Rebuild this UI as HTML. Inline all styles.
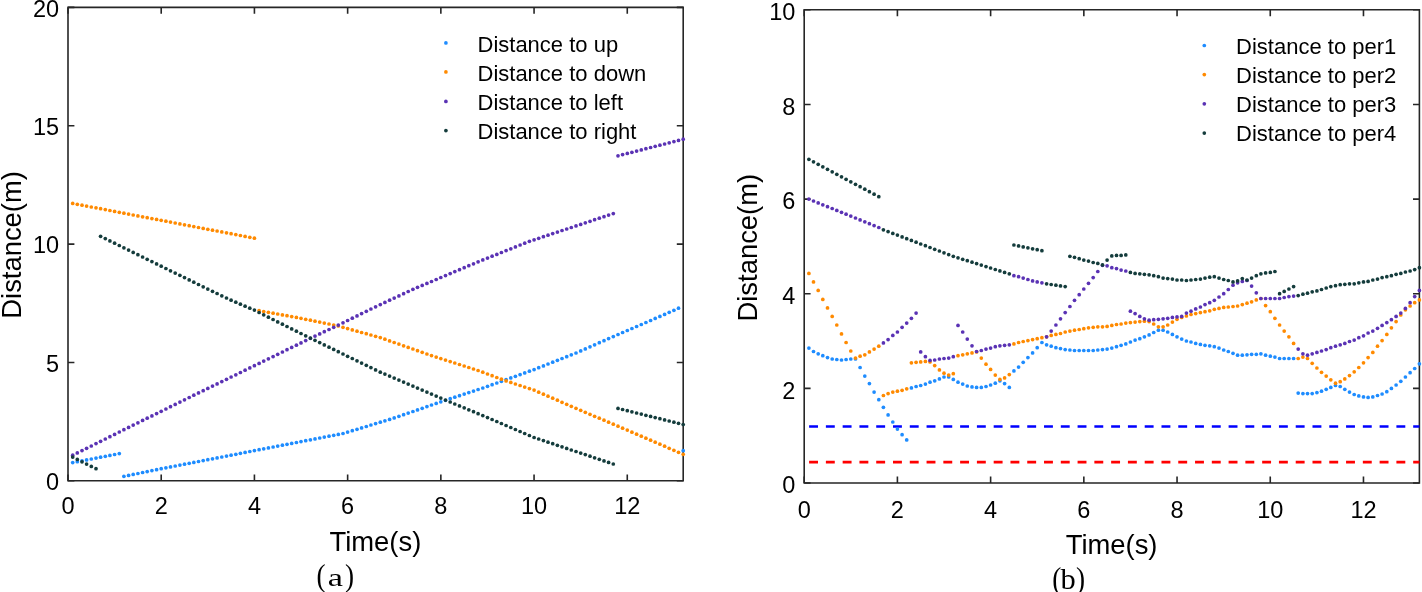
<!DOCTYPE html>
<html><head><meta charset="utf-8"><style>
html,body{margin:0;padding:0;background:#fff;width:1422px;height:592px;overflow:hidden}
svg{display:block;will-change:transform}
.tk{font-family:"Liberation Sans", sans-serif;font-size:23.5px;fill:#000}
.lg{font-family:"Liberation Sans", sans-serif;font-size:22px;fill:#000}
.al{font-family:"Liberation Sans", sans-serif;font-size:27.4px;fill:#000}
.cap{font-family:"Liberation Serif",serif;font-size:32px;fill:#000}
.cap2{font-family:"Liberation Serif",serif;font-size:30px;fill:#000}
</style></head><body>
<svg width="1422" height="592" viewBox="0 0 1422 592">
<path d="M68.0,7.4H683.2V480.8H68.0Z" fill="none" stroke="#262626" stroke-width="1.6"/>
<path d="M68.00,480.8v-6.4M68.00,7.4v6.4M161.21,480.8v-6.4M161.21,7.4v6.4M254.42,480.8v-6.4M254.42,7.4v6.4M347.64,480.8v-6.4M347.64,7.4v6.4M440.85,480.8v-6.4M440.85,7.4v6.4M534.06,480.8v-6.4M534.06,7.4v6.4M627.27,480.8v-6.4M627.27,7.4v6.4M68.0,480.80h6.4M683.2,480.80h-6.4M68.0,362.45h6.4M683.2,362.45h-6.4M68.0,244.10h6.4M683.2,244.10h-6.4M68.0,125.75h6.4M683.2,125.75h-6.4M68.0,7.40h6.4M683.2,7.40h-6.4" fill="none" stroke="#262626" stroke-width="1.6"/>
<text x="68.00" y="514.3" text-anchor="middle" class="tk">0</text>
<text x="161.21" y="514.3" text-anchor="middle" class="tk">2</text>
<text x="254.42" y="514.3" text-anchor="middle" class="tk">4</text>
<text x="347.64" y="514.3" text-anchor="middle" class="tk">6</text>
<text x="440.85" y="514.3" text-anchor="middle" class="tk">8</text>
<text x="534.06" y="514.3" text-anchor="middle" class="tk">10</text>
<text x="627.27" y="514.3" text-anchor="middle" class="tk">12</text>
<text x="59.10" y="490.10" text-anchor="end" class="tk">0</text>
<text x="59.10" y="371.75" text-anchor="end" class="tk">5</text>
<text x="59.10" y="253.40" text-anchor="end" class="tk">10</text>
<text x="59.10" y="135.05" text-anchor="end" class="tk">15</text>
<text x="59.10" y="16.70" text-anchor="end" class="tk">20</text>
<path d="M804.2,9.8H1419.4V483.0H804.2Z" fill="none" stroke="#262626" stroke-width="1.6"/>
<path d="M804.20,483.0v-6.4M804.20,9.8v6.4M897.41,483.0v-6.4M897.41,9.8v6.4M990.62,483.0v-6.4M990.62,9.8v6.4M1083.84,483.0v-6.4M1083.84,9.8v6.4M1177.05,483.0v-6.4M1177.05,9.8v6.4M1270.26,483.0v-6.4M1270.26,9.8v6.4M1363.47,483.0v-6.4M1363.47,9.8v6.4M804.2,483.00h6.4M1419.4,483.00h-6.4M804.2,388.36h6.4M1419.4,388.36h-6.4M804.2,293.72h6.4M1419.4,293.72h-6.4M804.2,199.08h6.4M1419.4,199.08h-6.4M804.2,104.44h6.4M1419.4,104.44h-6.4M804.2,9.80h6.4M1419.4,9.80h-6.4" fill="none" stroke="#262626" stroke-width="1.6"/>
<text x="804.20" y="517.9" text-anchor="middle" class="tk">0</text>
<text x="897.41" y="517.9" text-anchor="middle" class="tk">2</text>
<text x="990.62" y="517.9" text-anchor="middle" class="tk">4</text>
<text x="1083.84" y="517.9" text-anchor="middle" class="tk">6</text>
<text x="1177.05" y="517.9" text-anchor="middle" class="tk">8</text>
<text x="1270.26" y="517.9" text-anchor="middle" class="tk">10</text>
<text x="1363.47" y="517.9" text-anchor="middle" class="tk">12</text>
<text x="795.30" y="493.20" text-anchor="end" class="tk">0</text>
<text x="795.30" y="398.56" text-anchor="end" class="tk">2</text>
<text x="795.30" y="303.92" text-anchor="end" class="tk">4</text>
<text x="795.30" y="209.28" text-anchor="end" class="tk">6</text>
<text x="795.30" y="114.64" text-anchor="end" class="tk">8</text>
<text x="795.30" y="20.00" text-anchor="end" class="tk">10</text>
<path d="M809.1,426.5H1419.4" stroke="#0000ff" stroke-width="2.7" stroke-dasharray="8.9 7.88" fill="none"/>
<path d="M809.1,462.1H1419.4" stroke="#ff0000" stroke-width="2.7" stroke-dasharray="8.9 7.88" fill="none"/>
<g fill="#1e8cff"><circle cx="72.7" cy="462.6" r="1.85"/><circle cx="77.3" cy="461.7" r="1.85"/><circle cx="82.0" cy="460.8" r="1.85"/><circle cx="86.6" cy="459.9" r="1.85"/><circle cx="91.3" cy="459.0" r="1.85"/><circle cx="96.0" cy="458.1" r="1.85"/><circle cx="100.6" cy="457.2" r="1.85"/><circle cx="105.3" cy="456.3" r="1.85"/><circle cx="109.9" cy="455.4" r="1.85"/><circle cx="114.6" cy="454.5" r="1.85"/><circle cx="119.3" cy="453.6" r="1.85"/><circle cx="123.9" cy="476.3" r="1.85"/><circle cx="128.6" cy="475.4" r="1.85"/><circle cx="133.2" cy="474.4" r="1.85"/><circle cx="137.9" cy="473.5" r="1.85"/><circle cx="142.6" cy="472.5" r="1.85"/><circle cx="147.2" cy="471.6" r="1.85"/><circle cx="151.9" cy="470.6" r="1.85"/><circle cx="156.6" cy="469.7" r="1.85"/><circle cx="161.2" cy="468.7" r="1.85"/><circle cx="165.9" cy="467.8" r="1.85"/><circle cx="170.5" cy="466.9" r="1.85"/><circle cx="175.2" cy="466.0" r="1.85"/><circle cx="179.9" cy="465.1" r="1.85"/><circle cx="184.5" cy="464.2" r="1.85"/><circle cx="189.2" cy="463.3" r="1.85"/><circle cx="193.8" cy="462.4" r="1.85"/><circle cx="198.5" cy="461.5" r="1.85"/><circle cx="203.2" cy="460.6" r="1.85"/><circle cx="207.8" cy="459.7" r="1.85"/><circle cx="212.5" cy="458.8" r="1.85"/><circle cx="217.1" cy="457.9" r="1.85"/><circle cx="221.8" cy="457.0" r="1.85"/><circle cx="226.5" cy="456.1" r="1.85"/><circle cx="231.1" cy="455.2" r="1.85"/><circle cx="235.8" cy="454.3" r="1.85"/><circle cx="240.4" cy="453.3" r="1.85"/><circle cx="245.1" cy="452.4" r="1.85"/><circle cx="249.8" cy="451.5" r="1.85"/><circle cx="254.4" cy="450.6" r="1.85"/><circle cx="259.1" cy="449.7" r="1.85"/><circle cx="263.7" cy="448.8" r="1.85"/><circle cx="268.4" cy="447.9" r="1.85"/><circle cx="273.1" cy="447.0" r="1.85"/><circle cx="277.7" cy="446.1" r="1.85"/><circle cx="282.4" cy="445.2" r="1.85"/><circle cx="287.0" cy="444.3" r="1.85"/><circle cx="291.7" cy="443.4" r="1.85"/><circle cx="296.4" cy="442.5" r="1.85"/><circle cx="301.0" cy="441.6" r="1.85"/><circle cx="305.7" cy="440.7" r="1.85"/><circle cx="310.4" cy="439.8" r="1.85"/><circle cx="315.0" cy="438.9" r="1.85"/><circle cx="319.7" cy="438.0" r="1.85"/><circle cx="324.3" cy="437.1" r="1.85"/><circle cx="329.0" cy="436.2" r="1.85"/><circle cx="333.7" cy="435.3" r="1.85"/><circle cx="338.3" cy="434.4" r="1.85"/><circle cx="343.0" cy="433.5" r="1.85"/><circle cx="347.6" cy="432.1" r="1.85"/><circle cx="352.3" cy="430.7" r="1.85"/><circle cx="357.0" cy="429.3" r="1.85"/><circle cx="361.6" cy="427.9" r="1.85"/><circle cx="366.3" cy="426.5" r="1.85"/><circle cx="370.9" cy="425.0" r="1.85"/><circle cx="375.6" cy="423.6" r="1.85"/><circle cx="380.3" cy="422.2" r="1.85"/><circle cx="384.9" cy="420.8" r="1.85"/><circle cx="389.6" cy="419.4" r="1.85"/><circle cx="394.2" cy="417.9" r="1.85"/><circle cx="398.9" cy="416.3" r="1.85"/><circle cx="403.6" cy="414.7" r="1.85"/><circle cx="408.2" cy="413.1" r="1.85"/><circle cx="412.9" cy="411.5" r="1.85"/><circle cx="417.5" cy="409.9" r="1.85"/><circle cx="422.2" cy="408.3" r="1.85"/><circle cx="426.9" cy="406.6" r="1.85"/><circle cx="431.5" cy="405.0" r="1.85"/><circle cx="436.2" cy="403.4" r="1.85"/><circle cx="440.8" cy="401.8" r="1.85"/><circle cx="445.5" cy="400.3" r="1.85"/><circle cx="450.2" cy="398.7" r="1.85"/><circle cx="454.8" cy="397.2" r="1.85"/><circle cx="459.5" cy="395.7" r="1.85"/><circle cx="464.2" cy="394.1" r="1.85"/><circle cx="468.8" cy="392.6" r="1.85"/><circle cx="473.5" cy="391.1" r="1.85"/><circle cx="478.1" cy="389.5" r="1.85"/><circle cx="482.8" cy="388.0" r="1.85"/><circle cx="487.5" cy="386.3" r="1.85"/><circle cx="492.1" cy="384.7" r="1.85"/><circle cx="496.8" cy="383.0" r="1.85"/><circle cx="501.4" cy="381.3" r="1.85"/><circle cx="506.1" cy="379.6" r="1.85"/><circle cx="510.8" cy="377.9" r="1.85"/><circle cx="515.4" cy="376.3" r="1.85"/><circle cx="520.1" cy="374.6" r="1.85"/><circle cx="524.7" cy="372.9" r="1.85"/><circle cx="529.4" cy="371.2" r="1.85"/><circle cx="534.1" cy="369.6" r="1.85"/><circle cx="538.7" cy="367.7" r="1.85"/><circle cx="543.4" cy="365.9" r="1.85"/><circle cx="548.0" cy="364.0" r="1.85"/><circle cx="552.7" cy="362.2" r="1.85"/><circle cx="557.4" cy="360.3" r="1.85"/><circle cx="562.0" cy="358.5" r="1.85"/><circle cx="566.7" cy="356.7" r="1.85"/><circle cx="571.3" cy="354.8" r="1.85"/><circle cx="576.0" cy="353.0" r="1.85"/><circle cx="580.7" cy="350.9" r="1.85"/><circle cx="585.3" cy="348.9" r="1.85"/><circle cx="590.0" cy="346.8" r="1.85"/><circle cx="594.6" cy="344.8" r="1.85"/><circle cx="599.3" cy="342.7" r="1.85"/><circle cx="604.0" cy="340.7" r="1.85"/><circle cx="608.6" cy="338.6" r="1.85"/><circle cx="613.3" cy="336.6" r="1.85"/><circle cx="618.0" cy="334.5" r="1.85"/><circle cx="622.6" cy="332.5" r="1.85"/><circle cx="627.3" cy="330.5" r="1.85"/><circle cx="631.9" cy="328.5" r="1.85"/><circle cx="636.6" cy="326.5" r="1.85"/><circle cx="641.3" cy="324.5" r="1.85"/><circle cx="645.9" cy="322.5" r="1.85"/><circle cx="650.6" cy="320.5" r="1.85"/><circle cx="655.2" cy="318.4" r="1.85"/><circle cx="659.9" cy="316.4" r="1.85"/><circle cx="664.6" cy="314.4" r="1.85"/><circle cx="669.2" cy="312.3" r="1.85"/><circle cx="673.9" cy="310.3" r="1.85"/><circle cx="678.5" cy="308.2" r="1.85"/><circle cx="683.2" cy="450.7" r="1.85"/></g>
<g fill="#ff8a00"><circle cx="72.7" cy="203.4" r="1.85"/><circle cx="77.3" cy="204.3" r="1.85"/><circle cx="82.0" cy="205.2" r="1.85"/><circle cx="86.6" cy="206.1" r="1.85"/><circle cx="91.3" cy="207.0" r="1.85"/><circle cx="96.0" cy="207.8" r="1.85"/><circle cx="100.6" cy="208.7" r="1.85"/><circle cx="105.3" cy="209.6" r="1.85"/><circle cx="109.9" cy="210.5" r="1.85"/><circle cx="114.6" cy="211.4" r="1.85"/><circle cx="119.3" cy="212.3" r="1.85"/><circle cx="123.9" cy="213.2" r="1.85"/><circle cx="128.6" cy="214.1" r="1.85"/><circle cx="133.2" cy="215.0" r="1.85"/><circle cx="137.9" cy="215.9" r="1.85"/><circle cx="142.6" cy="216.8" r="1.85"/><circle cx="147.2" cy="217.7" r="1.85"/><circle cx="151.9" cy="218.6" r="1.85"/><circle cx="156.6" cy="219.4" r="1.85"/><circle cx="161.2" cy="220.3" r="1.85"/><circle cx="165.9" cy="221.2" r="1.85"/><circle cx="170.5" cy="222.1" r="1.85"/><circle cx="175.2" cy="223.0" r="1.85"/><circle cx="179.9" cy="223.9" r="1.85"/><circle cx="184.5" cy="224.8" r="1.85"/><circle cx="189.2" cy="225.7" r="1.85"/><circle cx="193.8" cy="226.6" r="1.85"/><circle cx="198.5" cy="227.5" r="1.85"/><circle cx="203.2" cy="228.4" r="1.85"/><circle cx="207.8" cy="229.3" r="1.85"/><circle cx="212.5" cy="230.2" r="1.85"/><circle cx="217.1" cy="231.0" r="1.85"/><circle cx="221.8" cy="231.9" r="1.85"/><circle cx="226.5" cy="232.8" r="1.85"/><circle cx="231.1" cy="233.7" r="1.85"/><circle cx="235.8" cy="234.6" r="1.85"/><circle cx="240.4" cy="235.5" r="1.85"/><circle cx="245.1" cy="236.4" r="1.85"/><circle cx="249.8" cy="237.3" r="1.85"/><circle cx="254.4" cy="238.2" r="1.85"/><circle cx="259.1" cy="310.6" r="1.85"/><circle cx="263.7" cy="311.5" r="1.85"/><circle cx="268.4" cy="312.3" r="1.85"/><circle cx="273.1" cy="313.2" r="1.85"/><circle cx="277.7" cy="314.0" r="1.85"/><circle cx="282.4" cy="314.9" r="1.85"/><circle cx="287.0" cy="315.7" r="1.85"/><circle cx="291.7" cy="316.6" r="1.85"/><circle cx="296.4" cy="317.4" r="1.85"/><circle cx="301.0" cy="318.3" r="1.85"/><circle cx="305.7" cy="319.3" r="1.85"/><circle cx="310.4" cy="320.2" r="1.85"/><circle cx="315.0" cy="321.2" r="1.85"/><circle cx="319.7" cy="322.1" r="1.85"/><circle cx="324.3" cy="323.1" r="1.85"/><circle cx="329.0" cy="324.0" r="1.85"/><circle cx="333.7" cy="325.0" r="1.85"/><circle cx="338.3" cy="326.0" r="1.85"/><circle cx="343.0" cy="327.3" r="1.85"/><circle cx="347.6" cy="328.6" r="1.85"/><circle cx="352.3" cy="329.9" r="1.85"/><circle cx="357.0" cy="331.2" r="1.85"/><circle cx="361.6" cy="332.5" r="1.85"/><circle cx="366.3" cy="333.7" r="1.85"/><circle cx="370.9" cy="335.0" r="1.85"/><circle cx="375.6" cy="336.3" r="1.85"/><circle cx="380.3" cy="337.6" r="1.85"/><circle cx="384.9" cy="339.2" r="1.85"/><circle cx="389.6" cy="340.9" r="1.85"/><circle cx="394.2" cy="342.5" r="1.85"/><circle cx="398.9" cy="344.1" r="1.85"/><circle cx="403.6" cy="345.8" r="1.85"/><circle cx="408.2" cy="347.4" r="1.85"/><circle cx="412.9" cy="349.0" r="1.85"/><circle cx="417.5" cy="350.7" r="1.85"/><circle cx="422.2" cy="352.3" r="1.85"/><circle cx="426.9" cy="354.0" r="1.85"/><circle cx="431.5" cy="355.6" r="1.85"/><circle cx="436.2" cy="357.1" r="1.85"/><circle cx="440.8" cy="358.6" r="1.85"/><circle cx="445.5" cy="360.1" r="1.85"/><circle cx="450.2" cy="361.6" r="1.85"/><circle cx="454.8" cy="363.0" r="1.85"/><circle cx="459.5" cy="364.5" r="1.85"/><circle cx="464.2" cy="366.0" r="1.85"/><circle cx="468.8" cy="367.5" r="1.85"/><circle cx="473.5" cy="369.0" r="1.85"/><circle cx="478.1" cy="370.5" r="1.85"/><circle cx="482.8" cy="372.2" r="1.85"/><circle cx="487.5" cy="374.0" r="1.85"/><circle cx="492.1" cy="375.7" r="1.85"/><circle cx="496.8" cy="377.5" r="1.85"/><circle cx="501.4" cy="379.2" r="1.85"/><circle cx="506.1" cy="380.9" r="1.85"/><circle cx="510.8" cy="382.4" r="1.85"/><circle cx="515.4" cy="384.0" r="1.85"/><circle cx="520.1" cy="385.5" r="1.85"/><circle cx="524.7" cy="387.1" r="1.85"/><circle cx="529.4" cy="388.6" r="1.85"/><circle cx="534.1" cy="390.1" r="1.85"/><circle cx="538.7" cy="392.2" r="1.85"/><circle cx="543.4" cy="394.2" r="1.85"/><circle cx="548.0" cy="396.2" r="1.85"/><circle cx="552.7" cy="398.2" r="1.85"/><circle cx="557.4" cy="400.2" r="1.85"/><circle cx="562.0" cy="402.3" r="1.85"/><circle cx="566.7" cy="404.3" r="1.85"/><circle cx="571.3" cy="406.3" r="1.85"/><circle cx="576.0" cy="408.3" r="1.85"/><circle cx="580.7" cy="410.3" r="1.85"/><circle cx="585.3" cy="412.3" r="1.85"/><circle cx="590.0" cy="414.3" r="1.85"/><circle cx="594.6" cy="416.3" r="1.85"/><circle cx="599.3" cy="418.2" r="1.85"/><circle cx="604.0" cy="420.2" r="1.85"/><circle cx="608.6" cy="422.2" r="1.85"/><circle cx="613.3" cy="424.2" r="1.85"/><circle cx="618.0" cy="426.2" r="1.85"/><circle cx="622.6" cy="428.2" r="1.85"/><circle cx="627.3" cy="430.1" r="1.85"/><circle cx="631.9" cy="432.2" r="1.85"/><circle cx="636.6" cy="434.2" r="1.85"/><circle cx="641.3" cy="436.2" r="1.85"/><circle cx="645.9" cy="438.2" r="1.85"/><circle cx="650.6" cy="440.2" r="1.85"/><circle cx="655.2" cy="442.2" r="1.85"/><circle cx="659.9" cy="444.2" r="1.85"/><circle cx="664.6" cy="446.2" r="1.85"/><circle cx="669.2" cy="448.3" r="1.85"/><circle cx="673.9" cy="450.3" r="1.85"/><circle cx="678.5" cy="452.3" r="1.85"/><circle cx="683.2" cy="454.3" r="1.85"/></g>
<g fill="#5a32b4"><circle cx="72.7" cy="455.2" r="1.85"/><circle cx="77.3" cy="452.9" r="1.85"/><circle cx="82.0" cy="450.6" r="1.85"/><circle cx="86.6" cy="448.3" r="1.85"/><circle cx="91.3" cy="446.0" r="1.85"/><circle cx="96.0" cy="443.6" r="1.85"/><circle cx="100.6" cy="441.3" r="1.85"/><circle cx="105.3" cy="439.0" r="1.85"/><circle cx="109.9" cy="436.7" r="1.85"/><circle cx="114.6" cy="434.4" r="1.85"/><circle cx="119.3" cy="432.0" r="1.85"/><circle cx="123.9" cy="429.7" r="1.85"/><circle cx="128.6" cy="427.4" r="1.85"/><circle cx="133.2" cy="425.1" r="1.85"/><circle cx="137.9" cy="422.8" r="1.85"/><circle cx="142.6" cy="420.4" r="1.85"/><circle cx="147.2" cy="418.2" r="1.85"/><circle cx="151.9" cy="415.9" r="1.85"/><circle cx="156.6" cy="413.6" r="1.85"/><circle cx="161.2" cy="411.3" r="1.85"/><circle cx="165.9" cy="409.0" r="1.85"/><circle cx="170.5" cy="406.7" r="1.85"/><circle cx="175.2" cy="404.4" r="1.85"/><circle cx="179.9" cy="402.1" r="1.85"/><circle cx="184.5" cy="399.8" r="1.85"/><circle cx="189.2" cy="397.5" r="1.85"/><circle cx="193.8" cy="395.2" r="1.85"/><circle cx="198.5" cy="392.9" r="1.85"/><circle cx="203.2" cy="390.7" r="1.85"/><circle cx="207.8" cy="388.4" r="1.85"/><circle cx="212.5" cy="386.1" r="1.85"/><circle cx="217.1" cy="383.9" r="1.85"/><circle cx="221.8" cy="381.6" r="1.85"/><circle cx="226.5" cy="379.3" r="1.85"/><circle cx="231.1" cy="377.0" r="1.85"/><circle cx="235.8" cy="374.8" r="1.85"/><circle cx="240.4" cy="372.5" r="1.85"/><circle cx="245.1" cy="370.2" r="1.85"/><circle cx="249.8" cy="367.9" r="1.85"/><circle cx="254.4" cy="365.7" r="1.85"/><circle cx="259.1" cy="363.4" r="1.85"/><circle cx="263.7" cy="361.1" r="1.85"/><circle cx="268.4" cy="358.8" r="1.85"/><circle cx="273.1" cy="356.6" r="1.85"/><circle cx="277.7" cy="354.3" r="1.85"/><circle cx="282.4" cy="352.0" r="1.85"/><circle cx="287.0" cy="349.7" r="1.85"/><circle cx="291.7" cy="347.4" r="1.85"/><circle cx="296.4" cy="345.2" r="1.85"/><circle cx="301.0" cy="342.9" r="1.85"/><circle cx="305.7" cy="340.6" r="1.85"/><circle cx="310.4" cy="338.3" r="1.85"/><circle cx="315.0" cy="336.1" r="1.85"/><circle cx="319.7" cy="333.9" r="1.85"/><circle cx="324.3" cy="331.7" r="1.85"/><circle cx="329.0" cy="329.5" r="1.85"/><circle cx="333.7" cy="327.3" r="1.85"/><circle cx="338.3" cy="325.1" r="1.85"/><circle cx="343.0" cy="322.8" r="1.85"/><circle cx="347.6" cy="320.5" r="1.85"/><circle cx="352.3" cy="318.2" r="1.85"/><circle cx="357.0" cy="315.9" r="1.85"/><circle cx="361.6" cy="313.6" r="1.85"/><circle cx="366.3" cy="311.3" r="1.85"/><circle cx="370.9" cy="309.0" r="1.85"/><circle cx="375.6" cy="306.8" r="1.85"/><circle cx="380.3" cy="304.6" r="1.85"/><circle cx="384.9" cy="302.4" r="1.85"/><circle cx="389.6" cy="300.2" r="1.85"/><circle cx="394.2" cy="298.1" r="1.85"/><circle cx="398.9" cy="295.9" r="1.85"/><circle cx="403.6" cy="293.7" r="1.85"/><circle cx="408.2" cy="291.5" r="1.85"/><circle cx="412.9" cy="289.3" r="1.85"/><circle cx="417.5" cy="287.3" r="1.85"/><circle cx="422.2" cy="285.4" r="1.85"/><circle cx="426.9" cy="283.4" r="1.85"/><circle cx="431.5" cy="281.5" r="1.85"/><circle cx="436.2" cy="279.5" r="1.85"/><circle cx="440.8" cy="277.5" r="1.85"/><circle cx="445.5" cy="275.6" r="1.85"/><circle cx="450.2" cy="273.6" r="1.85"/><circle cx="454.8" cy="271.6" r="1.85"/><circle cx="459.5" cy="269.7" r="1.85"/><circle cx="464.2" cy="267.7" r="1.85"/><circle cx="468.8" cy="265.7" r="1.85"/><circle cx="473.5" cy="263.8" r="1.85"/><circle cx="478.1" cy="261.8" r="1.85"/><circle cx="482.8" cy="259.9" r="1.85"/><circle cx="487.5" cy="258.1" r="1.85"/><circle cx="492.1" cy="256.2" r="1.85"/><circle cx="496.8" cy="254.4" r="1.85"/><circle cx="501.4" cy="252.5" r="1.85"/><circle cx="506.1" cy="250.6" r="1.85"/><circle cx="510.8" cy="248.8" r="1.85"/><circle cx="515.4" cy="246.9" r="1.85"/><circle cx="520.1" cy="245.0" r="1.85"/><circle cx="524.7" cy="243.2" r="1.85"/><circle cx="529.4" cy="241.3" r="1.85"/><circle cx="534.1" cy="239.8" r="1.85"/><circle cx="538.7" cy="238.3" r="1.85"/><circle cx="543.4" cy="236.7" r="1.85"/><circle cx="548.0" cy="235.2" r="1.85"/><circle cx="552.7" cy="233.6" r="1.85"/><circle cx="557.4" cy="232.1" r="1.85"/><circle cx="562.0" cy="230.5" r="1.85"/><circle cx="566.7" cy="229.0" r="1.85"/><circle cx="571.3" cy="227.5" r="1.85"/><circle cx="576.0" cy="225.9" r="1.85"/><circle cx="580.7" cy="224.4" r="1.85"/><circle cx="585.3" cy="222.8" r="1.85"/><circle cx="590.0" cy="221.3" r="1.85"/><circle cx="594.6" cy="219.7" r="1.85"/><circle cx="599.3" cy="218.2" r="1.85"/><circle cx="604.0" cy="216.7" r="1.85"/><circle cx="608.6" cy="215.1" r="1.85"/><circle cx="613.3" cy="213.6" r="1.85"/><circle cx="618.0" cy="155.8" r="1.85"/><circle cx="622.6" cy="154.6" r="1.85"/><circle cx="627.3" cy="153.4" r="1.85"/><circle cx="631.9" cy="152.3" r="1.85"/><circle cx="636.6" cy="151.1" r="1.85"/><circle cx="641.3" cy="149.9" r="1.85"/><circle cx="645.9" cy="148.7" r="1.85"/><circle cx="650.6" cy="147.5" r="1.85"/><circle cx="655.2" cy="146.3" r="1.85"/><circle cx="659.9" cy="145.2" r="1.85"/><circle cx="664.6" cy="144.0" r="1.85"/><circle cx="669.2" cy="142.8" r="1.85"/><circle cx="673.9" cy="141.6" r="1.85"/><circle cx="678.5" cy="140.4" r="1.85"/><circle cx="683.2" cy="139.2" r="1.85"/></g>
<g fill="#143c3c"><circle cx="72.7" cy="457.1" r="1.85"/><circle cx="77.3" cy="459.4" r="1.85"/><circle cx="82.0" cy="461.8" r="1.85"/><circle cx="86.6" cy="464.1" r="1.85"/><circle cx="91.3" cy="466.4" r="1.85"/><circle cx="96.0" cy="468.7" r="1.85"/><circle cx="100.6" cy="236.3" r="1.85"/><circle cx="105.3" cy="238.6" r="1.85"/><circle cx="109.9" cy="240.9" r="1.85"/><circle cx="114.6" cy="243.2" r="1.85"/><circle cx="119.3" cy="245.5" r="1.85"/><circle cx="123.9" cy="247.8" r="1.85"/><circle cx="128.6" cy="250.1" r="1.85"/><circle cx="133.2" cy="252.4" r="1.85"/><circle cx="137.9" cy="254.7" r="1.85"/><circle cx="142.6" cy="257.0" r="1.85"/><circle cx="147.2" cy="259.3" r="1.85"/><circle cx="151.9" cy="261.6" r="1.85"/><circle cx="156.6" cy="263.9" r="1.85"/><circle cx="161.2" cy="266.2" r="1.85"/><circle cx="165.9" cy="268.5" r="1.85"/><circle cx="170.5" cy="270.8" r="1.85"/><circle cx="175.2" cy="273.1" r="1.85"/><circle cx="179.9" cy="275.3" r="1.85"/><circle cx="184.5" cy="277.6" r="1.85"/><circle cx="189.2" cy="279.9" r="1.85"/><circle cx="193.8" cy="282.2" r="1.85"/><circle cx="198.5" cy="284.5" r="1.85"/><circle cx="203.2" cy="286.8" r="1.85"/><circle cx="207.8" cy="289.1" r="1.85"/><circle cx="212.5" cy="291.3" r="1.85"/><circle cx="217.1" cy="293.5" r="1.85"/><circle cx="221.8" cy="295.8" r="1.85"/><circle cx="226.5" cy="298.0" r="1.85"/><circle cx="231.1" cy="300.2" r="1.85"/><circle cx="235.8" cy="302.2" r="1.85"/><circle cx="240.4" cy="304.2" r="1.85"/><circle cx="245.1" cy="306.2" r="1.85"/><circle cx="249.8" cy="308.2" r="1.85"/><circle cx="254.4" cy="310.1" r="1.85"/><circle cx="259.1" cy="312.5" r="1.85"/><circle cx="263.7" cy="314.8" r="1.85"/><circle cx="268.4" cy="317.2" r="1.85"/><circle cx="273.1" cy="319.5" r="1.85"/><circle cx="277.7" cy="321.9" r="1.85"/><circle cx="282.4" cy="324.2" r="1.85"/><circle cx="287.0" cy="326.5" r="1.85"/><circle cx="291.7" cy="328.9" r="1.85"/><circle cx="296.4" cy="331.2" r="1.85"/><circle cx="301.0" cy="333.5" r="1.85"/><circle cx="305.7" cy="335.8" r="1.85"/><circle cx="310.4" cy="338.1" r="1.85"/><circle cx="315.0" cy="340.3" r="1.85"/><circle cx="319.7" cy="342.6" r="1.85"/><circle cx="324.3" cy="344.9" r="1.85"/><circle cx="329.0" cy="347.2" r="1.85"/><circle cx="333.7" cy="349.4" r="1.85"/><circle cx="338.3" cy="351.7" r="1.85"/><circle cx="343.0" cy="354.0" r="1.85"/><circle cx="347.6" cy="356.3" r="1.85"/><circle cx="352.3" cy="358.5" r="1.85"/><circle cx="357.0" cy="360.8" r="1.85"/><circle cx="361.6" cy="363.1" r="1.85"/><circle cx="366.3" cy="365.3" r="1.85"/><circle cx="370.9" cy="367.6" r="1.85"/><circle cx="375.6" cy="369.9" r="1.85"/><circle cx="380.3" cy="372.2" r="1.85"/><circle cx="384.9" cy="374.1" r="1.85"/><circle cx="389.6" cy="376.1" r="1.85"/><circle cx="394.2" cy="378.1" r="1.85"/><circle cx="398.9" cy="380.1" r="1.85"/><circle cx="403.6" cy="382.1" r="1.85"/><circle cx="408.2" cy="384.1" r="1.85"/><circle cx="412.9" cy="386.1" r="1.85"/><circle cx="417.5" cy="388.1" r="1.85"/><circle cx="422.2" cy="390.1" r="1.85"/><circle cx="426.9" cy="392.1" r="1.85"/><circle cx="431.5" cy="394.1" r="1.85"/><circle cx="436.2" cy="396.1" r="1.85"/><circle cx="440.8" cy="398.1" r="1.85"/><circle cx="445.5" cy="400.1" r="1.85"/><circle cx="450.2" cy="402.0" r="1.85"/><circle cx="454.8" cy="404.0" r="1.85"/><circle cx="459.5" cy="405.9" r="1.85"/><circle cx="464.2" cy="407.8" r="1.85"/><circle cx="468.8" cy="409.8" r="1.85"/><circle cx="473.5" cy="411.7" r="1.85"/><circle cx="478.1" cy="413.7" r="1.85"/><circle cx="482.8" cy="415.6" r="1.85"/><circle cx="487.5" cy="417.6" r="1.85"/><circle cx="492.1" cy="419.5" r="1.85"/><circle cx="496.8" cy="421.5" r="1.85"/><circle cx="501.4" cy="423.5" r="1.85"/><circle cx="506.1" cy="425.5" r="1.85"/><circle cx="510.8" cy="427.5" r="1.85"/><circle cx="515.4" cy="429.5" r="1.85"/><circle cx="520.1" cy="431.5" r="1.85"/><circle cx="524.7" cy="433.5" r="1.85"/><circle cx="529.4" cy="435.5" r="1.85"/><circle cx="534.1" cy="437.5" r="1.85"/><circle cx="538.7" cy="439.0" r="1.85"/><circle cx="543.4" cy="440.6" r="1.85"/><circle cx="548.0" cy="442.2" r="1.85"/><circle cx="552.7" cy="443.7" r="1.85"/><circle cx="557.4" cy="445.3" r="1.85"/><circle cx="562.0" cy="446.8" r="1.85"/><circle cx="566.7" cy="448.4" r="1.85"/><circle cx="571.3" cy="450.0" r="1.85"/><circle cx="576.0" cy="451.5" r="1.85"/><circle cx="580.7" cy="453.1" r="1.85"/><circle cx="585.3" cy="454.6" r="1.85"/><circle cx="590.0" cy="456.2" r="1.85"/><circle cx="594.6" cy="457.8" r="1.85"/><circle cx="599.3" cy="459.3" r="1.85"/><circle cx="604.0" cy="460.9" r="1.85"/><circle cx="608.6" cy="462.4" r="1.85"/><circle cx="613.3" cy="464.0" r="1.85"/><circle cx="618.0" cy="408.4" r="1.85"/><circle cx="622.6" cy="409.5" r="1.85"/><circle cx="627.3" cy="410.7" r="1.85"/><circle cx="631.9" cy="411.8" r="1.85"/><circle cx="636.6" cy="413.0" r="1.85"/><circle cx="641.3" cy="414.1" r="1.85"/><circle cx="645.9" cy="415.3" r="1.85"/><circle cx="650.6" cy="416.4" r="1.85"/><circle cx="655.2" cy="417.6" r="1.85"/><circle cx="659.9" cy="418.7" r="1.85"/><circle cx="664.6" cy="419.9" r="1.85"/><circle cx="669.2" cy="421.0" r="1.85"/><circle cx="673.9" cy="422.2" r="1.85"/><circle cx="678.5" cy="423.3" r="1.85"/><circle cx="683.2" cy="424.5" r="1.85"/></g>
<g fill="#1e8cff"><circle cx="808.9" cy="348.1" r="1.85"/><circle cx="813.5" cy="351.5" r="1.85"/><circle cx="818.2" cy="353.8" r="1.85"/><circle cx="822.8" cy="355.7" r="1.85"/><circle cx="827.5" cy="357.6" r="1.85"/><circle cx="832.2" cy="359.0" r="1.85"/><circle cx="836.8" cy="359.5" r="1.85"/><circle cx="841.5" cy="360.0" r="1.85"/><circle cx="846.1" cy="359.5" r="1.85"/><circle cx="850.8" cy="359.0" r="1.85"/><circle cx="855.5" cy="359.0" r="1.85"/><circle cx="860.1" cy="367.5" r="1.85"/><circle cx="864.8" cy="376.1" r="1.85"/><circle cx="869.4" cy="383.6" r="1.85"/><circle cx="874.1" cy="392.1" r="1.85"/><circle cx="878.8" cy="399.7" r="1.85"/><circle cx="883.4" cy="407.3" r="1.85"/><circle cx="888.1" cy="414.9" r="1.85"/><circle cx="892.8" cy="422.0" r="1.85"/><circle cx="897.4" cy="429.1" r="1.85"/><circle cx="902.1" cy="434.7" r="1.85"/><circle cx="906.7" cy="439.9" r="1.85"/><circle cx="911.4" cy="387.9" r="1.85"/><circle cx="916.1" cy="386.5" r="1.85"/><circle cx="920.7" cy="385.5" r="1.85"/><circle cx="925.4" cy="384.1" r="1.85"/><circle cx="930.0" cy="382.2" r="1.85"/><circle cx="934.7" cy="380.8" r="1.85"/><circle cx="939.4" cy="378.9" r="1.85"/><circle cx="944.0" cy="377.0" r="1.85"/><circle cx="948.7" cy="377.0" r="1.85"/><circle cx="953.3" cy="379.4" r="1.85"/><circle cx="958.0" cy="382.2" r="1.85"/><circle cx="962.7" cy="384.1" r="1.85"/><circle cx="967.3" cy="386.0" r="1.85"/><circle cx="972.0" cy="386.9" r="1.85"/><circle cx="976.6" cy="387.4" r="1.85"/><circle cx="981.3" cy="387.4" r="1.85"/><circle cx="986.0" cy="386.5" r="1.85"/><circle cx="990.6" cy="385.0" r="1.85"/><circle cx="995.3" cy="383.2" r="1.85"/><circle cx="999.9" cy="380.8" r="1.85"/><circle cx="1004.6" cy="383.6" r="1.85"/><circle cx="1009.3" cy="387.4" r="1.85"/><circle cx="1013.9" cy="370.9" r="1.85"/><circle cx="1018.6" cy="367.1" r="1.85"/><circle cx="1023.2" cy="362.3" r="1.85"/><circle cx="1027.9" cy="357.6" r="1.85"/><circle cx="1032.6" cy="352.9" r="1.85"/><circle cx="1037.2" cy="347.7" r="1.85"/><circle cx="1041.9" cy="342.5" r="1.85"/><circle cx="1046.6" cy="344.8" r="1.85"/><circle cx="1051.2" cy="346.2" r="1.85"/><circle cx="1055.9" cy="347.7" r="1.85"/><circle cx="1060.5" cy="348.6" r="1.85"/><circle cx="1065.2" cy="349.6" r="1.85"/><circle cx="1069.9" cy="350.0" r="1.85"/><circle cx="1074.5" cy="350.5" r="1.85"/><circle cx="1079.2" cy="350.5" r="1.85"/><circle cx="1083.8" cy="350.5" r="1.85"/><circle cx="1088.5" cy="350.5" r="1.85"/><circle cx="1093.2" cy="350.5" r="1.85"/><circle cx="1097.8" cy="350.0" r="1.85"/><circle cx="1102.5" cy="349.6" r="1.85"/><circle cx="1107.1" cy="349.1" r="1.85"/><circle cx="1111.8" cy="348.1" r="1.85"/><circle cx="1116.5" cy="346.7" r="1.85"/><circle cx="1121.1" cy="345.3" r="1.85"/><circle cx="1125.8" cy="343.9" r="1.85"/><circle cx="1130.4" cy="342.0" r="1.85"/><circle cx="1135.1" cy="340.1" r="1.85"/><circle cx="1139.8" cy="338.7" r="1.85"/><circle cx="1144.4" cy="336.8" r="1.85"/><circle cx="1149.1" cy="334.9" r="1.85"/><circle cx="1153.7" cy="332.5" r="1.85"/><circle cx="1158.4" cy="330.2" r="1.85"/><circle cx="1163.1" cy="330.2" r="1.85"/><circle cx="1167.7" cy="332.0" r="1.85"/><circle cx="1172.4" cy="334.4" r="1.85"/><circle cx="1177.0" cy="336.8" r="1.85"/><circle cx="1181.7" cy="339.1" r="1.85"/><circle cx="1186.4" cy="341.0" r="1.85"/><circle cx="1191.0" cy="342.0" r="1.85"/><circle cx="1195.7" cy="343.4" r="1.85"/><circle cx="1200.4" cy="344.4" r="1.85"/><circle cx="1205.0" cy="345.3" r="1.85"/><circle cx="1209.7" cy="345.8" r="1.85"/><circle cx="1214.3" cy="346.7" r="1.85"/><circle cx="1219.0" cy="348.1" r="1.85"/><circle cx="1223.7" cy="350.0" r="1.85"/><circle cx="1228.3" cy="351.5" r="1.85"/><circle cx="1233.0" cy="353.3" r="1.85"/><circle cx="1237.6" cy="355.2" r="1.85"/><circle cx="1242.3" cy="355.2" r="1.85"/><circle cx="1247.0" cy="354.8" r="1.85"/><circle cx="1251.6" cy="354.3" r="1.85"/><circle cx="1256.3" cy="354.3" r="1.85"/><circle cx="1260.9" cy="353.8" r="1.85"/><circle cx="1265.6" cy="355.2" r="1.85"/><circle cx="1270.3" cy="356.2" r="1.85"/><circle cx="1274.9" cy="357.1" r="1.85"/><circle cx="1279.6" cy="358.5" r="1.85"/><circle cx="1284.2" cy="358.5" r="1.85"/><circle cx="1288.9" cy="358.5" r="1.85"/><circle cx="1293.6" cy="358.5" r="1.85"/><circle cx="1298.2" cy="393.1" r="1.85"/><circle cx="1302.9" cy="393.6" r="1.85"/><circle cx="1307.5" cy="393.6" r="1.85"/><circle cx="1312.2" cy="393.6" r="1.85"/><circle cx="1316.9" cy="392.6" r="1.85"/><circle cx="1321.5" cy="391.2" r="1.85"/><circle cx="1326.2" cy="389.3" r="1.85"/><circle cx="1330.8" cy="387.4" r="1.85"/><circle cx="1335.5" cy="385.5" r="1.85"/><circle cx="1340.2" cy="386.5" r="1.85"/><circle cx="1344.8" cy="389.3" r="1.85"/><circle cx="1349.5" cy="392.1" r="1.85"/><circle cx="1354.2" cy="394.5" r="1.85"/><circle cx="1358.8" cy="395.9" r="1.85"/><circle cx="1363.5" cy="396.9" r="1.85"/><circle cx="1368.1" cy="397.4" r="1.85"/><circle cx="1372.8" cy="396.9" r="1.85"/><circle cx="1377.5" cy="395.5" r="1.85"/><circle cx="1382.1" cy="394.0" r="1.85"/><circle cx="1386.8" cy="391.7" r="1.85"/><circle cx="1391.4" cy="388.4" r="1.85"/><circle cx="1396.1" cy="385.0" r="1.85"/><circle cx="1400.8" cy="381.3" r="1.85"/><circle cx="1405.4" cy="377.0" r="1.85"/><circle cx="1410.1" cy="372.7" r="1.85"/><circle cx="1414.7" cy="368.5" r="1.85"/><circle cx="1419.4" cy="363.8" r="1.85"/></g>
<g fill="#ff8a00"><circle cx="808.9" cy="273.4" r="1.85"/><circle cx="813.5" cy="281.9" r="1.85"/><circle cx="818.2" cy="290.4" r="1.85"/><circle cx="822.8" cy="299.4" r="1.85"/><circle cx="827.5" cy="307.9" r="1.85"/><circle cx="832.2" cy="316.4" r="1.85"/><circle cx="836.8" cy="325.0" r="1.85"/><circle cx="841.5" cy="333.9" r="1.85"/><circle cx="846.1" cy="342.5" r="1.85"/><circle cx="850.8" cy="351.0" r="1.85"/><circle cx="855.5" cy="358.1" r="1.85"/><circle cx="860.1" cy="356.2" r="1.85"/><circle cx="864.8" cy="354.8" r="1.85"/><circle cx="869.4" cy="351.9" r="1.85"/><circle cx="874.1" cy="349.1" r="1.85"/><circle cx="878.8" cy="346.2" r="1.85"/><circle cx="883.4" cy="395.5" r="1.85"/><circle cx="888.1" cy="393.6" r="1.85"/><circle cx="892.8" cy="392.1" r="1.85"/><circle cx="897.4" cy="391.2" r="1.85"/><circle cx="902.1" cy="390.3" r="1.85"/><circle cx="906.7" cy="388.8" r="1.85"/><circle cx="911.4" cy="362.8" r="1.85"/><circle cx="916.1" cy="362.3" r="1.85"/><circle cx="920.7" cy="361.9" r="1.85"/><circle cx="925.4" cy="361.4" r="1.85"/><circle cx="930.0" cy="361.9" r="1.85"/><circle cx="934.7" cy="365.6" r="1.85"/><circle cx="939.4" cy="369.9" r="1.85"/><circle cx="944.0" cy="373.2" r="1.85"/><circle cx="948.7" cy="375.1" r="1.85"/><circle cx="953.3" cy="373.7" r="1.85"/><circle cx="958.0" cy="355.7" r="1.85"/><circle cx="962.7" cy="354.8" r="1.85"/><circle cx="967.3" cy="353.8" r="1.85"/><circle cx="972.0" cy="352.9" r="1.85"/><circle cx="976.6" cy="351.9" r="1.85"/><circle cx="981.3" cy="358.1" r="1.85"/><circle cx="986.0" cy="364.2" r="1.85"/><circle cx="990.6" cy="369.4" r="1.85"/><circle cx="995.3" cy="375.1" r="1.85"/><circle cx="999.9" cy="379.4" r="1.85"/><circle cx="1004.6" cy="377.9" r="1.85"/><circle cx="1009.3" cy="374.6" r="1.85"/><circle cx="1013.9" cy="343.9" r="1.85"/><circle cx="1018.6" cy="342.5" r="1.85"/><circle cx="1023.2" cy="341.5" r="1.85"/><circle cx="1027.9" cy="340.6" r="1.85"/><circle cx="1032.6" cy="339.6" r="1.85"/><circle cx="1037.2" cy="338.7" r="1.85"/><circle cx="1041.9" cy="337.7" r="1.85"/><circle cx="1046.6" cy="336.8" r="1.85"/><circle cx="1051.2" cy="335.4" r="1.85"/><circle cx="1055.9" cy="334.4" r="1.85"/><circle cx="1060.5" cy="333.5" r="1.85"/><circle cx="1065.2" cy="332.0" r="1.85"/><circle cx="1069.9" cy="331.1" r="1.85"/><circle cx="1074.5" cy="330.2" r="1.85"/><circle cx="1079.2" cy="329.5" r="1.85"/><circle cx="1083.8" cy="328.7" r="1.85"/><circle cx="1088.5" cy="327.8" r="1.85"/><circle cx="1093.2" cy="327.3" r="1.85"/><circle cx="1097.8" cy="326.8" r="1.85"/><circle cx="1102.5" cy="326.8" r="1.85"/><circle cx="1107.1" cy="326.4" r="1.85"/><circle cx="1111.8" cy="325.4" r="1.85"/><circle cx="1116.5" cy="324.5" r="1.85"/><circle cx="1121.1" cy="324.0" r="1.85"/><circle cx="1125.8" cy="323.1" r="1.85"/><circle cx="1130.4" cy="322.6" r="1.85"/><circle cx="1135.1" cy="322.1" r="1.85"/><circle cx="1139.8" cy="321.6" r="1.85"/><circle cx="1144.4" cy="321.2" r="1.85"/><circle cx="1149.1" cy="321.6" r="1.85"/><circle cx="1153.7" cy="324.0" r="1.85"/><circle cx="1158.4" cy="326.8" r="1.85"/><circle cx="1163.1" cy="326.8" r="1.85"/><circle cx="1167.7" cy="325.0" r="1.85"/><circle cx="1172.4" cy="322.1" r="1.85"/><circle cx="1177.0" cy="319.3" r="1.85"/><circle cx="1181.7" cy="317.4" r="1.85"/><circle cx="1186.4" cy="316.0" r="1.85"/><circle cx="1191.0" cy="314.5" r="1.85"/><circle cx="1195.7" cy="313.6" r="1.85"/><circle cx="1200.4" cy="312.6" r="1.85"/><circle cx="1205.0" cy="311.7" r="1.85"/><circle cx="1209.7" cy="310.8" r="1.85"/><circle cx="1214.3" cy="309.3" r="1.85"/><circle cx="1219.0" cy="308.4" r="1.85"/><circle cx="1223.7" cy="307.4" r="1.85"/><circle cx="1228.3" cy="307.0" r="1.85"/><circle cx="1233.0" cy="306.5" r="1.85"/><circle cx="1237.6" cy="306.0" r="1.85"/><circle cx="1242.3" cy="304.6" r="1.85"/><circle cx="1247.0" cy="303.2" r="1.85"/><circle cx="1251.6" cy="301.8" r="1.85"/><circle cx="1256.3" cy="299.9" r="1.85"/><circle cx="1260.9" cy="298.5" r="1.85"/><circle cx="1265.6" cy="305.6" r="1.85"/><circle cx="1270.3" cy="311.7" r="1.85"/><circle cx="1274.9" cy="318.3" r="1.85"/><circle cx="1279.6" cy="325.0" r="1.85"/><circle cx="1284.2" cy="331.1" r="1.85"/><circle cx="1288.9" cy="336.8" r="1.85"/><circle cx="1293.6" cy="343.4" r="1.85"/><circle cx="1298.2" cy="358.5" r="1.85"/><circle cx="1302.9" cy="357.1" r="1.85"/><circle cx="1307.5" cy="358.5" r="1.85"/><circle cx="1312.2" cy="363.3" r="1.85"/><circle cx="1316.9" cy="368.0" r="1.85"/><circle cx="1321.5" cy="372.3" r="1.85"/><circle cx="1326.2" cy="376.1" r="1.85"/><circle cx="1330.8" cy="379.8" r="1.85"/><circle cx="1335.5" cy="383.2" r="1.85"/><circle cx="1340.2" cy="381.7" r="1.85"/><circle cx="1344.8" cy="378.9" r="1.85"/><circle cx="1349.5" cy="375.6" r="1.85"/><circle cx="1354.2" cy="371.8" r="1.85"/><circle cx="1358.8" cy="367.5" r="1.85"/><circle cx="1363.5" cy="362.8" r="1.85"/><circle cx="1368.1" cy="357.6" r="1.85"/><circle cx="1372.8" cy="352.4" r="1.85"/><circle cx="1377.5" cy="346.2" r="1.85"/><circle cx="1382.1" cy="340.6" r="1.85"/><circle cx="1386.8" cy="334.4" r="1.85"/><circle cx="1391.4" cy="327.8" r="1.85"/><circle cx="1396.1" cy="321.6" r="1.85"/><circle cx="1400.8" cy="315.0" r="1.85"/><circle cx="1405.4" cy="309.8" r="1.85"/><circle cx="1410.1" cy="306.0" r="1.85"/><circle cx="1414.7" cy="302.7" r="1.85"/><circle cx="1419.4" cy="299.9" r="1.85"/></g>
<g fill="#5a32b4"><circle cx="808.9" cy="199.1" r="1.85"/><circle cx="813.5" cy="201.0" r="1.85"/><circle cx="818.2" cy="202.9" r="1.85"/><circle cx="822.8" cy="204.8" r="1.85"/><circle cx="827.5" cy="206.7" r="1.85"/><circle cx="832.2" cy="208.5" r="1.85"/><circle cx="836.8" cy="210.4" r="1.85"/><circle cx="841.5" cy="212.3" r="1.85"/><circle cx="846.1" cy="214.2" r="1.85"/><circle cx="850.8" cy="216.1" r="1.85"/><circle cx="855.5" cy="218.0" r="1.85"/><circle cx="860.1" cy="219.9" r="1.85"/><circle cx="864.8" cy="221.8" r="1.85"/><circle cx="869.4" cy="223.7" r="1.85"/><circle cx="874.1" cy="225.6" r="1.85"/><circle cx="878.8" cy="227.5" r="1.85"/><circle cx="883.4" cy="342.9" r="1.85"/><circle cx="888.1" cy="339.6" r="1.85"/><circle cx="892.8" cy="335.4" r="1.85"/><circle cx="897.4" cy="332.0" r="1.85"/><circle cx="902.1" cy="327.3" r="1.85"/><circle cx="906.7" cy="323.1" r="1.85"/><circle cx="911.4" cy="318.3" r="1.85"/><circle cx="916.1" cy="313.1" r="1.85"/><circle cx="920.7" cy="351.9" r="1.85"/><circle cx="925.4" cy="356.7" r="1.85"/><circle cx="930.0" cy="360.4" r="1.85"/><circle cx="934.7" cy="360.0" r="1.85"/><circle cx="939.4" cy="359.0" r="1.85"/><circle cx="944.0" cy="358.5" r="1.85"/><circle cx="948.7" cy="358.1" r="1.85"/><circle cx="953.3" cy="356.7" r="1.85"/><circle cx="958.0" cy="325.4" r="1.85"/><circle cx="962.7" cy="332.0" r="1.85"/><circle cx="967.3" cy="339.1" r="1.85"/><circle cx="972.0" cy="345.8" r="1.85"/><circle cx="976.6" cy="351.5" r="1.85"/><circle cx="981.3" cy="350.5" r="1.85"/><circle cx="986.0" cy="349.1" r="1.85"/><circle cx="990.6" cy="348.1" r="1.85"/><circle cx="995.3" cy="346.7" r="1.85"/><circle cx="999.9" cy="345.8" r="1.85"/><circle cx="1004.6" cy="345.3" r="1.85"/><circle cx="1009.3" cy="344.8" r="1.85"/><circle cx="1013.9" cy="275.7" r="1.85"/><circle cx="1018.6" cy="276.7" r="1.85"/><circle cx="1023.2" cy="278.1" r="1.85"/><circle cx="1027.9" cy="279.5" r="1.85"/><circle cx="1032.6" cy="280.9" r="1.85"/><circle cx="1037.2" cy="281.9" r="1.85"/><circle cx="1041.9" cy="282.8" r="1.85"/><circle cx="1046.6" cy="336.8" r="1.85"/><circle cx="1051.2" cy="331.1" r="1.85"/><circle cx="1055.9" cy="325.0" r="1.85"/><circle cx="1060.5" cy="318.8" r="1.85"/><circle cx="1065.2" cy="312.6" r="1.85"/><circle cx="1069.9" cy="306.5" r="1.85"/><circle cx="1074.5" cy="300.3" r="1.85"/><circle cx="1079.2" cy="294.7" r="1.85"/><circle cx="1083.8" cy="289.0" r="1.85"/><circle cx="1088.5" cy="283.3" r="1.85"/><circle cx="1093.2" cy="277.6" r="1.85"/><circle cx="1097.8" cy="271.5" r="1.85"/><circle cx="1102.5" cy="265.3" r="1.85"/><circle cx="1107.1" cy="265.8" r="1.85"/><circle cx="1111.8" cy="267.7" r="1.85"/><circle cx="1116.5" cy="268.6" r="1.85"/><circle cx="1121.1" cy="270.1" r="1.85"/><circle cx="1125.8" cy="271.0" r="1.85"/><circle cx="1130.4" cy="311.2" r="1.85"/><circle cx="1135.1" cy="313.6" r="1.85"/><circle cx="1139.8" cy="316.4" r="1.85"/><circle cx="1144.4" cy="318.8" r="1.85"/><circle cx="1149.1" cy="320.2" r="1.85"/><circle cx="1153.7" cy="319.7" r="1.85"/><circle cx="1158.4" cy="319.3" r="1.85"/><circle cx="1163.1" cy="318.8" r="1.85"/><circle cx="1167.7" cy="318.3" r="1.85"/><circle cx="1172.4" cy="317.4" r="1.85"/><circle cx="1177.0" cy="316.9" r="1.85"/><circle cx="1181.7" cy="316.4" r="1.85"/><circle cx="1186.4" cy="313.1" r="1.85"/><circle cx="1191.0" cy="311.2" r="1.85"/><circle cx="1195.7" cy="308.9" r="1.85"/><circle cx="1200.4" cy="307.0" r="1.85"/><circle cx="1205.0" cy="304.6" r="1.85"/><circle cx="1209.7" cy="302.7" r="1.85"/><circle cx="1214.3" cy="300.3" r="1.85"/><circle cx="1219.0" cy="297.0" r="1.85"/><circle cx="1223.7" cy="293.7" r="1.85"/><circle cx="1228.3" cy="289.5" r="1.85"/><circle cx="1233.0" cy="285.2" r="1.85"/><circle cx="1237.6" cy="282.8" r="1.85"/><circle cx="1242.3" cy="281.4" r="1.85"/><circle cx="1247.0" cy="280.5" r="1.85"/><circle cx="1251.6" cy="286.1" r="1.85"/><circle cx="1256.3" cy="292.8" r="1.85"/><circle cx="1260.9" cy="298.5" r="1.85"/><circle cx="1265.6" cy="298.5" r="1.85"/><circle cx="1270.3" cy="298.5" r="1.85"/><circle cx="1274.9" cy="298.5" r="1.85"/><circle cx="1279.6" cy="298.5" r="1.85"/><circle cx="1284.2" cy="297.5" r="1.85"/><circle cx="1288.9" cy="296.6" r="1.85"/><circle cx="1293.6" cy="296.1" r="1.85"/><circle cx="1298.2" cy="349.1" r="1.85"/><circle cx="1302.9" cy="353.8" r="1.85"/><circle cx="1307.5" cy="355.2" r="1.85"/><circle cx="1312.2" cy="353.8" r="1.85"/><circle cx="1316.9" cy="352.4" r="1.85"/><circle cx="1321.5" cy="351.0" r="1.85"/><circle cx="1326.2" cy="349.6" r="1.85"/><circle cx="1330.8" cy="347.7" r="1.85"/><circle cx="1335.5" cy="346.2" r="1.85"/><circle cx="1340.2" cy="344.8" r="1.85"/><circle cx="1344.8" cy="343.4" r="1.85"/><circle cx="1349.5" cy="341.5" r="1.85"/><circle cx="1354.2" cy="340.1" r="1.85"/><circle cx="1358.8" cy="337.7" r="1.85"/><circle cx="1363.5" cy="335.8" r="1.85"/><circle cx="1368.1" cy="333.0" r="1.85"/><circle cx="1372.8" cy="331.1" r="1.85"/><circle cx="1377.5" cy="328.3" r="1.85"/><circle cx="1382.1" cy="325.4" r="1.85"/><circle cx="1386.8" cy="322.6" r="1.85"/><circle cx="1391.4" cy="319.7" r="1.85"/><circle cx="1396.1" cy="316.4" r="1.85"/><circle cx="1400.8" cy="313.1" r="1.85"/><circle cx="1405.4" cy="308.4" r="1.85"/><circle cx="1410.1" cy="302.7" r="1.85"/><circle cx="1414.7" cy="296.6" r="1.85"/><circle cx="1419.4" cy="290.4" r="1.85"/></g>
<g fill="#143c3c"><circle cx="808.9" cy="159.3" r="1.85"/><circle cx="813.5" cy="161.8" r="1.85"/><circle cx="818.2" cy="164.3" r="1.85"/><circle cx="822.8" cy="166.8" r="1.85"/><circle cx="827.5" cy="169.3" r="1.85"/><circle cx="832.2" cy="171.8" r="1.85"/><circle cx="836.8" cy="174.3" r="1.85"/><circle cx="841.5" cy="176.8" r="1.85"/><circle cx="846.1" cy="179.3" r="1.85"/><circle cx="850.8" cy="181.8" r="1.85"/><circle cx="855.5" cy="184.3" r="1.85"/><circle cx="860.1" cy="186.7" r="1.85"/><circle cx="864.8" cy="189.2" r="1.85"/><circle cx="869.4" cy="191.7" r="1.85"/><circle cx="874.1" cy="194.2" r="1.85"/><circle cx="878.8" cy="196.7" r="1.85"/><circle cx="883.4" cy="229.8" r="1.85"/><circle cx="888.1" cy="231.6" r="1.85"/><circle cx="892.8" cy="233.4" r="1.85"/><circle cx="897.4" cy="235.1" r="1.85"/><circle cx="902.1" cy="236.9" r="1.85"/><circle cx="906.7" cy="238.7" r="1.85"/><circle cx="911.4" cy="240.4" r="1.85"/><circle cx="916.1" cy="242.2" r="1.85"/><circle cx="920.7" cy="244.0" r="1.85"/><circle cx="925.4" cy="245.7" r="1.85"/><circle cx="930.0" cy="247.5" r="1.85"/><circle cx="934.7" cy="249.3" r="1.85"/><circle cx="939.4" cy="251.0" r="1.85"/><circle cx="944.0" cy="252.8" r="1.85"/><circle cx="948.7" cy="254.6" r="1.85"/><circle cx="953.3" cy="256.3" r="1.85"/><circle cx="958.0" cy="257.8" r="1.85"/><circle cx="962.7" cy="259.3" r="1.85"/><circle cx="967.3" cy="260.7" r="1.85"/><circle cx="972.0" cy="262.2" r="1.85"/><circle cx="976.6" cy="263.6" r="1.85"/><circle cx="981.3" cy="265.1" r="1.85"/><circle cx="986.0" cy="266.6" r="1.85"/><circle cx="990.6" cy="268.0" r="1.85"/><circle cx="995.3" cy="269.5" r="1.85"/><circle cx="999.9" cy="270.9" r="1.85"/><circle cx="1004.6" cy="272.4" r="1.85"/><circle cx="1009.3" cy="273.8" r="1.85"/><circle cx="1013.9" cy="245.0" r="1.85"/><circle cx="1018.6" cy="245.9" r="1.85"/><circle cx="1023.2" cy="246.9" r="1.85"/><circle cx="1027.9" cy="247.8" r="1.85"/><circle cx="1032.6" cy="248.8" r="1.85"/><circle cx="1037.2" cy="249.7" r="1.85"/><circle cx="1041.9" cy="250.7" r="1.85"/><circle cx="1046.6" cy="283.8" r="1.85"/><circle cx="1051.2" cy="284.5" r="1.85"/><circle cx="1055.9" cy="285.2" r="1.85"/><circle cx="1060.5" cy="285.9" r="1.85"/><circle cx="1065.2" cy="286.6" r="1.85"/><circle cx="1069.9" cy="256.3" r="1.85"/><circle cx="1074.5" cy="257.3" r="1.85"/><circle cx="1079.2" cy="258.7" r="1.85"/><circle cx="1083.8" cy="260.1" r="1.85"/><circle cx="1088.5" cy="261.1" r="1.85"/><circle cx="1093.2" cy="262.5" r="1.85"/><circle cx="1097.8" cy="263.4" r="1.85"/><circle cx="1102.5" cy="264.9" r="1.85"/><circle cx="1107.1" cy="260.1" r="1.85"/><circle cx="1111.8" cy="255.9" r="1.85"/><circle cx="1116.5" cy="255.4" r="1.85"/><circle cx="1121.1" cy="255.4" r="1.85"/><circle cx="1125.8" cy="254.9" r="1.85"/><circle cx="1130.4" cy="272.4" r="1.85"/><circle cx="1135.1" cy="273.4" r="1.85"/><circle cx="1139.8" cy="273.8" r="1.85"/><circle cx="1144.4" cy="274.3" r="1.85"/><circle cx="1149.1" cy="274.8" r="1.85"/><circle cx="1153.7" cy="275.7" r="1.85"/><circle cx="1158.4" cy="276.7" r="1.85"/><circle cx="1163.1" cy="278.1" r="1.85"/><circle cx="1167.7" cy="278.6" r="1.85"/><circle cx="1172.4" cy="279.1" r="1.85"/><circle cx="1177.0" cy="280.0" r="1.85"/><circle cx="1181.7" cy="280.0" r="1.85"/><circle cx="1186.4" cy="280.5" r="1.85"/><circle cx="1191.0" cy="280.0" r="1.85"/><circle cx="1195.7" cy="279.5" r="1.85"/><circle cx="1200.4" cy="279.1" r="1.85"/><circle cx="1205.0" cy="278.1" r="1.85"/><circle cx="1209.7" cy="277.2" r="1.85"/><circle cx="1214.3" cy="276.7" r="1.85"/><circle cx="1219.0" cy="278.1" r="1.85"/><circle cx="1223.7" cy="279.5" r="1.85"/><circle cx="1228.3" cy="280.5" r="1.85"/><circle cx="1233.0" cy="281.9" r="1.85"/><circle cx="1237.6" cy="280.9" r="1.85"/><circle cx="1242.3" cy="278.6" r="1.85"/><circle cx="1247.0" cy="280.0" r="1.85"/><circle cx="1251.6" cy="278.1" r="1.85"/><circle cx="1256.3" cy="275.7" r="1.85"/><circle cx="1260.9" cy="273.8" r="1.85"/><circle cx="1265.6" cy="272.9" r="1.85"/><circle cx="1270.3" cy="272.4" r="1.85"/><circle cx="1274.9" cy="271.5" r="1.85"/><circle cx="1279.6" cy="293.7" r="1.85"/><circle cx="1284.2" cy="291.4" r="1.85"/><circle cx="1288.9" cy="289.0" r="1.85"/><circle cx="1293.6" cy="286.6" r="1.85"/><circle cx="1298.2" cy="295.6" r="1.85"/><circle cx="1302.9" cy="294.2" r="1.85"/><circle cx="1307.5" cy="293.2" r="1.85"/><circle cx="1312.2" cy="291.8" r="1.85"/><circle cx="1316.9" cy="290.9" r="1.85"/><circle cx="1321.5" cy="289.5" r="1.85"/><circle cx="1326.2" cy="288.0" r="1.85"/><circle cx="1330.8" cy="286.6" r="1.85"/><circle cx="1335.5" cy="285.7" r="1.85"/><circle cx="1340.2" cy="284.7" r="1.85"/><circle cx="1344.8" cy="284.3" r="1.85"/><circle cx="1349.5" cy="283.8" r="1.85"/><circle cx="1354.2" cy="283.8" r="1.85"/><circle cx="1358.8" cy="282.8" r="1.85"/><circle cx="1363.5" cy="281.9" r="1.85"/><circle cx="1368.1" cy="281.4" r="1.85"/><circle cx="1372.8" cy="280.0" r="1.85"/><circle cx="1377.5" cy="279.1" r="1.85"/><circle cx="1382.1" cy="277.6" r="1.85"/><circle cx="1386.8" cy="276.7" r="1.85"/><circle cx="1391.4" cy="275.7" r="1.85"/><circle cx="1396.1" cy="274.3" r="1.85"/><circle cx="1400.8" cy="273.4" r="1.85"/><circle cx="1405.4" cy="272.0" r="1.85"/><circle cx="1410.1" cy="271.0" r="1.85"/><circle cx="1414.7" cy="269.6" r="1.85"/><circle cx="1419.4" cy="267.7" r="1.85"/></g>
<circle cx="445.9" cy="42.9" r="1.85" fill="#1e8cff"/>
<text transform="translate(477.5,51.5) scale(1,1.045)" class="lg">Distance to up</text>
<circle cx="445.9" cy="71.9" r="1.85" fill="#ff8a00"/>
<text transform="translate(477.5,80.5) scale(1,1.045)" class="lg">Distance to down</text>
<circle cx="445.9" cy="101.4" r="1.85" fill="#5a32b4"/>
<text transform="translate(477.5,110.0) scale(1,1.045)" class="lg">Distance to left</text>
<circle cx="445.9" cy="130.6" r="1.85" fill="#143c3c"/>
<text transform="translate(477.5,139.2) scale(1,1.045)" class="lg">Distance to right</text>
<circle cx="1204.3" cy="45.5" r="1.85" fill="#1e8cff"/>
<text transform="translate(1236.1,53.7) scale(1,1.045)" class="lg">Distance to per1</text>
<circle cx="1204.3" cy="74.6" r="1.85" fill="#ff8a00"/>
<text transform="translate(1236.1,82.8) scale(1,1.045)" class="lg">Distance to per2</text>
<circle cx="1204.3" cy="103.8" r="1.85" fill="#5a32b4"/>
<text transform="translate(1236.1,112.0) scale(1,1.045)" class="lg">Distance to per3</text>
<circle cx="1204.3" cy="133.1" r="1.85" fill="#143c3c"/>
<text transform="translate(1236.1,141.3) scale(1,1.045)" class="lg">Distance to per4</text>
<text x="375.4" y="551.1" text-anchor="middle" class="al">Time(s)</text>
<text x="1111.6" y="554.1" text-anchor="middle" class="al">Time(s)</text>
<text transform="translate(20.9,244.9) rotate(-90)" text-anchor="middle" class="al">Distance(m)</text>
<text transform="translate(756.8,247.7) rotate(-90)" text-anchor="middle" class="al">Distance(m)</text>
<text transform="translate(316.4,585.9) scale(0.85,1)" class="cap" style="font-size:32px">(</text><text transform="translate(327.84,585.9) scale(1.2,0.92)" class="cap" style="font-size:28.5px">a</text><text transform="translate(345.1,585.9) scale(0.85,1)" class="cap" style="font-size:32px">)</text>
<text transform="translate(1052.2,589.1) scale(0.85,1)" class="cap" style="font-size:32px">(</text><text transform="translate(1060.6,589.1) scale(1.05,1)" class="cap" style="font-size:29px">b</text><text transform="translate(1076.1,589.1) scale(0.85,1)" class="cap" style="font-size:32px">)</text>
</svg>
</body></html>
